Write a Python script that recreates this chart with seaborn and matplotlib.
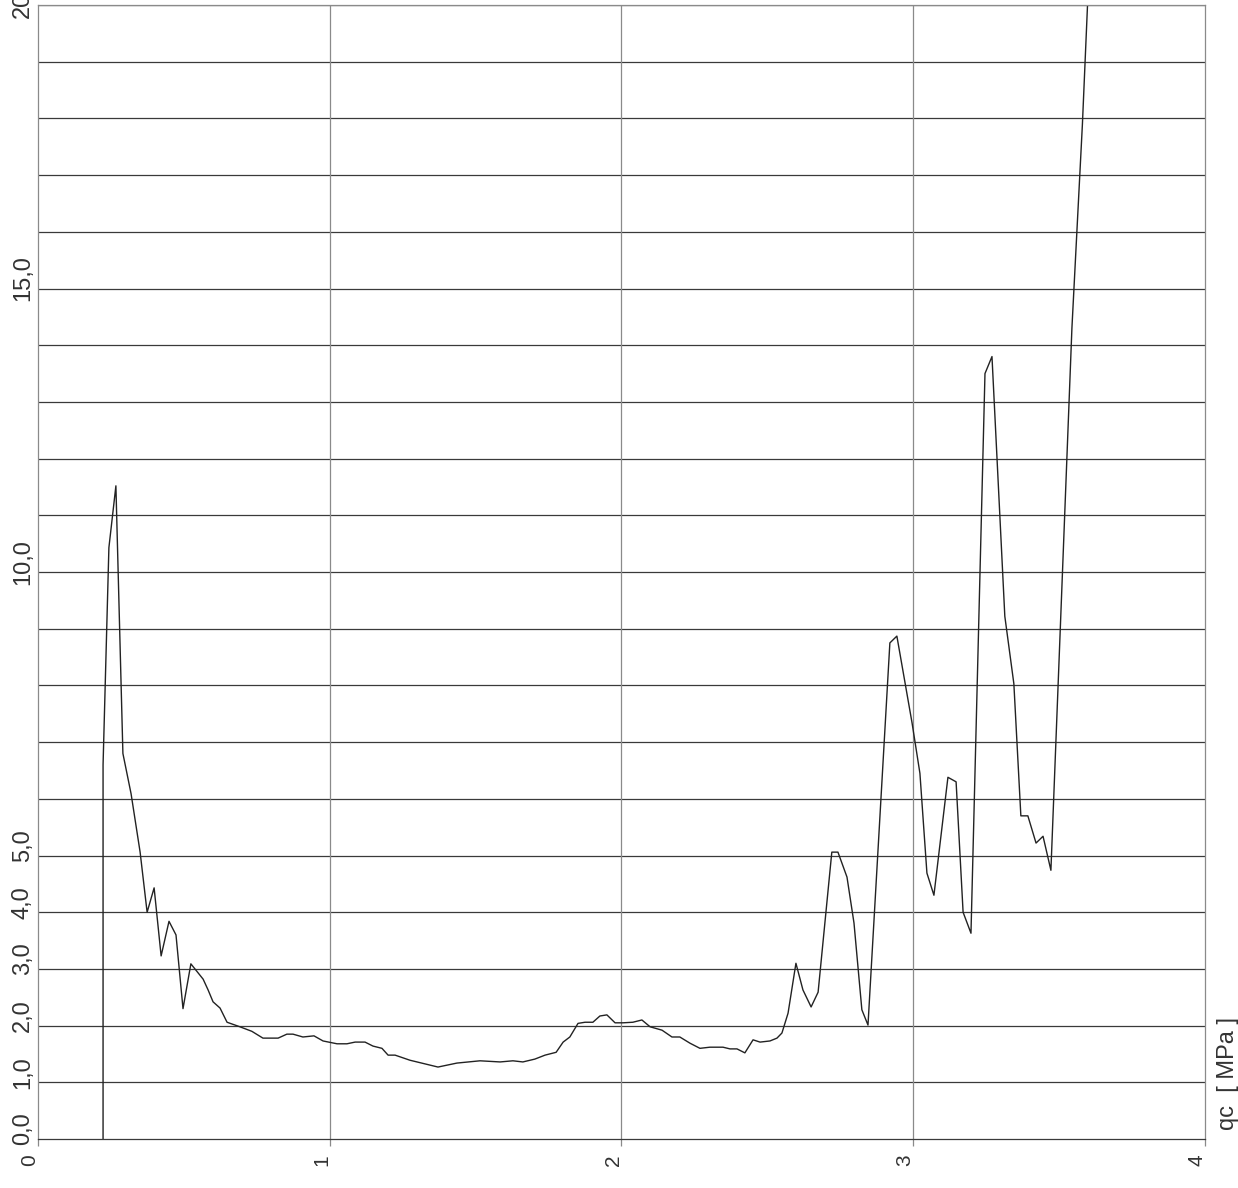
import numpy as np
import pandas as pd
import matplotlib
matplotlib.use("Agg")
import matplotlib.pyplot as plt
import matplotlib.transforms as mtransforms
import seaborn as sns

depth = [0.223, 0.223, 0.243, 0.267, 0.291, 0.319, 0.350, 0.374, 0.398, 0.422,
         0.449, 0.473, 0.497, 0.524, 0.566, 0.583, 0.600, 0.624, 0.648, 0.692,
         0.733, 0.771, 0.823, 0.853, 0.874, 0.908, 0.946, 0.977, 1.025, 1.059,
         1.087, 1.121, 1.148, 1.179, 1.200, 1.224, 1.275, 1.299, 1.371, 1.436,
         1.515, 1.584, 1.628, 1.662, 1.703, 1.738, 1.776, 1.800, 1.823, 1.851,
         1.875, 1.902, 1.926, 1.950, 1.978, 2.005, 2.039, 2.070, 2.098, 2.139,
         2.173, 2.200, 2.235, 2.269, 2.303, 2.348, 2.372, 2.396, 2.423, 2.451,
         2.475, 2.509, 2.533, 2.550, 2.571, 2.598, 2.622, 2.650, 2.674, 2.721,
         2.742, 2.773, 2.797, 2.824, 2.845, 2.920, 2.944, 2.996, 3.023, 3.047,
         3.071, 3.119, 3.147, 3.171, 3.198, 3.246, 3.270, 3.314, 3.345, 3.369,
         3.393, 3.421, 3.445, 3.472, 3.500, 3.544, 3.580, 3.600]
qc = [0.0, 6.6, 10.43, 11.52, 6.8, 6.09, 5.06, 4.0, 4.43, 3.23,
      3.84, 3.6, 2.3, 3.09, 2.82, 2.63, 2.42, 2.31, 2.06, 1.98,
      1.90, 1.78, 1.78, 1.85, 1.85, 1.80, 1.82, 1.73, 1.68, 1.68,
      1.71, 1.71, 1.64, 1.60, 1.48, 1.48, 1.39, 1.36, 1.27, 1.34,
      1.38, 1.36, 1.38, 1.36, 1.41, 1.48, 1.53, 1.71, 1.80, 2.04,
      2.06, 2.06, 2.17, 2.19, 2.05, 2.05, 2.06, 2.10, 1.98, 1.92,
      1.80, 1.80, 1.69, 1.60, 1.62, 1.62, 1.59, 1.59, 1.52, 1.75,
      1.71, 1.73, 1.78, 1.87, 2.22, 3.10, 2.63, 2.33, 2.59, 5.06,
      5.06, 4.62, 3.81, 2.28, 2.01, 8.75, 8.87, 7.34, 6.45, 4.69,
      4.30, 6.38, 6.30, 4.00, 3.63, 13.5, 13.8, 9.22, 8.03, 5.70,
      5.70, 5.22, 5.34, 4.74, 8.45, 14.3, 17.9, 20.3]

x_ticks = [0, 1, 2, 3, 4]
y_ticks = list(range(0, 21))
y_labels = {0: "0,0", 1: "1,0", 2: "2,0", 3: "3,0", 4: "4,0", 5: "5,0",
            10: "10,0", 15: "15,0", 20: "20,0"}

sns.set_style("white")
plt.rcParams['font.family'] = ['Liberation Sans', 'DejaVu Sans']

df = pd.DataFrame({'depth': depth, 'qc': qc})

fig = plt.figure(figsize=(12.38, 11.88), dpi=100)
ax = fig.add_axes([0.0307, 0.0412, 0.9426, 0.9546])

sns.lineplot(data=df, x='depth', y='qc', estimator=None, sort=False,
             color='#222222', linewidth=1.0, ax=ax)

ax.set_xlim(0, 4)
ax.set_ylim(0, 20)
ax.set_xticks(x_ticks)
ax.set_yticks(y_ticks)
ax.set_xticklabels([str(t) for t in x_ticks], rotation=90, fontsize=15,
                   color='#333333')
ax.set_yticklabels([y_labels.get(t, "") for t in y_ticks], rotation=90,
                   va='center', fontsize=17, color='#333333')
ax.set_xlabel("")
ax.set_ylabel("")

# grid: dark horizontal lines, lighter vertical lines
for t in y_ticks[1:]:
    ax.axhline(t, color='#3a3a3a', linewidth=0.9, zorder=0)
for t in x_ticks[1:-1]:
    ax.axvline(t, color='#8a8a8a', linewidth=0.9, zorder=0)

ax.tick_params(axis='x', length=5, width=0.9, color='#8a8a8a', pad=6,
               direction='out', bottom=True)
ax.tick_params(axis='y', length=0, pad=3)

for side in ['left', 'right', 'top']:
    ax.spines[side].set_color('#8a8a8a')
    ax.spines[side].set_linewidth(0.9)
ax.spines['bottom'].set_color('#3a3a3a')
ax.spines['bottom'].set_linewidth(0.9)

# the original labels sit a little off their grid lines
shift_x = mtransforms.ScaledTranslation(-8 / 100, 0, fig.dpi_scale_trans)
for lab in ax.get_xticklabels():
    lab.set_transform(lab.get_transform() + shift_x)
shift_y = mtransforms.ScaledTranslation(0, 10 / 100, fig.dpi_scale_trans)
for lab in ax.get_yticklabels():
    lab.set_transform(lab.get_transform() + shift_y)

fig.text(1228 / 1238, 1 - 1130 / 1188, "qc  [ MPa ]", rotation=90,
         ha='center', va='bottom', fontsize=17, color='#333333')

fig.savefig("out.png", dpi=100)
